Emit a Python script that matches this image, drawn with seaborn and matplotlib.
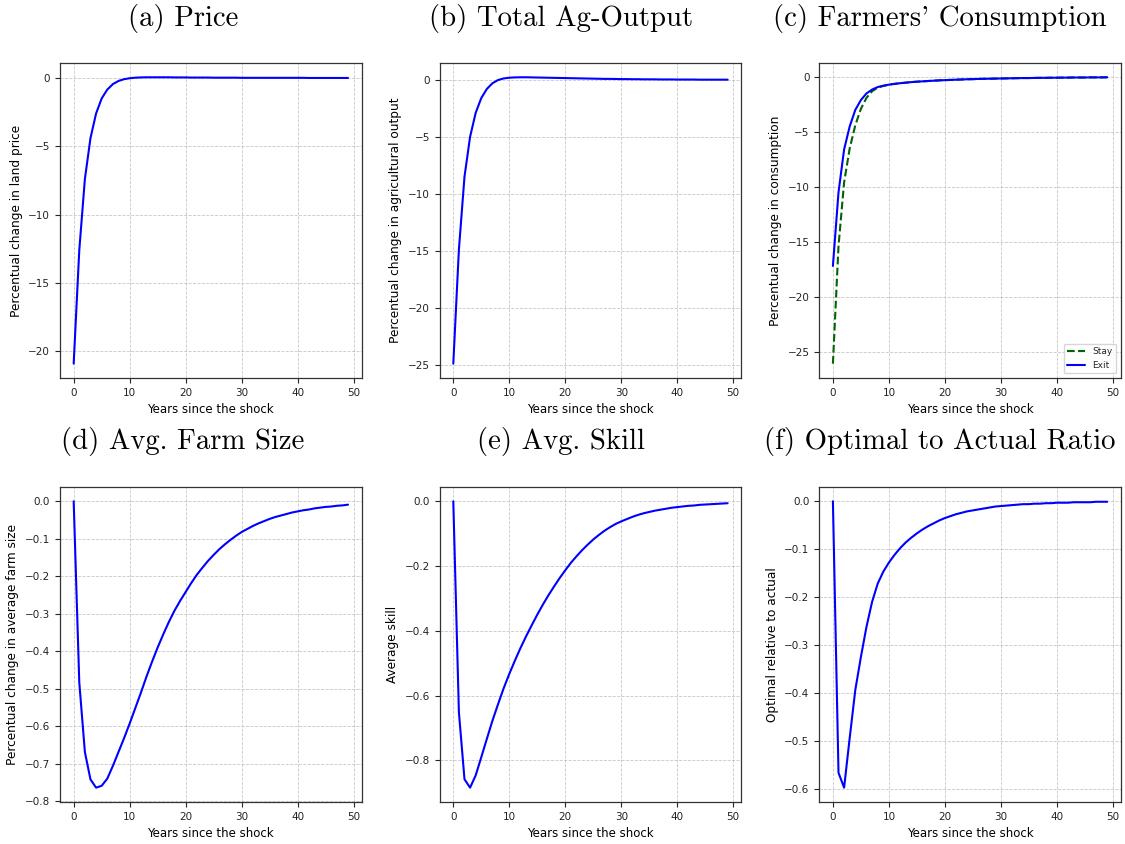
import numpy as np
import pandas as pd
import matplotlib
matplotlib.use("Agg")
import matplotlib.pyplot as plt
import seaborn as sns

years = list(range(50))

price = [-20.9, -12.6, -7.4, -4.4, -2.6, -1.5, -0.85, -0.45, -0.22, -0.09,
         -0.02, 0.02, 0.04, 0.05, 0.05, 0.05, 0.05, 0.05, 0.04, 0.04,
         0.04, 0.03, 0.03, 0.03, 0.03, 0.02, 0.02, 0.02, 0.02, 0.02,
         0.01, 0.01, 0.01, 0.01, 0.01, 0.01, 0.01, 0.01, 0.01, 0.01,
         0.01, 0.01, 0.0, 0.0, 0.0, 0.0, 0.0, 0.0, 0.0, 0.0]

ag_output = [-24.9, -14.9, -8.5, -5.0, -2.9, -1.6, -0.8, -0.3, -0.02, 0.12,
             0.18, 0.21, 0.22, 0.22, 0.21, 0.20, 0.19, 0.18, 0.17, 0.16,
             0.15, 0.14, 0.13, 0.12, 0.11, 0.10, 0.09, 0.08, 0.08, 0.07,
             0.06, 0.06, 0.05, 0.05, 0.04, 0.04, 0.04, 0.03, 0.03, 0.03,
             0.02, 0.02, 0.02, 0.02, 0.01, 0.01, 0.01, 0.01, 0.01, 0.01]

cons_exit = [-17.2, -10.5, -6.6, -4.5, -3.0, -2.1, -1.5, -1.15, -0.92, -0.8,
             -0.7, -0.63, -0.57, -0.52, -0.47, -0.43, -0.40, -0.37, -0.34, -0.31,
             -0.29, -0.27, -0.25, -0.23, -0.21, -0.20, -0.18, -0.17, -0.16, -0.15,
             -0.14, -0.13, -0.12, -0.11, -0.10, -0.10, -0.09, -0.08, -0.08, -0.07,
             -0.07, -0.06, -0.06, -0.05, -0.05, -0.05, -0.04, -0.04, -0.04, -0.03]

cons_stay = [-26.1, -15.4, -9.6, -6.5, -4.4, -2.9, -1.9, -1.3, -0.97, -0.82,
             -0.7, -0.63, -0.57, -0.52, -0.47, -0.43, -0.40, -0.37, -0.34, -0.31,
             -0.29, -0.27, -0.25, -0.23, -0.21, -0.20, -0.18, -0.17, -0.16, -0.15,
             -0.14, -0.13, -0.12, -0.11, -0.10, -0.10, -0.09, -0.08, -0.08, -0.07,
             -0.07, -0.06, -0.06, -0.05, -0.05, -0.05, -0.04, -0.04, -0.04, -0.03]

farm_size = [0.0, -0.483, -0.669, -0.742, -0.764, -0.759, -0.74, -0.706, -0.669, -0.632,
             -0.593, -0.552, -0.511, -0.468, -0.428, -0.39, -0.355, -0.322, -0.292, -0.266,
             -0.242, -0.218, -0.196, -0.177, -0.159, -0.143, -0.128, -0.115, -0.103, -0.092,
             -0.082, -0.074, -0.066, -0.059, -0.053, -0.047, -0.042, -0.038, -0.034, -0.030,
             -0.027, -0.024, -0.022, -0.019, -0.017, -0.015, -0.014, -0.012, -0.011, -0.009]

skill = [0.0, -0.651, -0.858, -0.884, -0.846, -0.79, -0.733, -0.677, -0.626, -0.577,
         -0.533, -0.492, -0.453, -0.417, -0.383, -0.35, -0.319, -0.29, -0.263, -0.237,
         -0.213, -0.19, -0.17, -0.151, -0.134, -0.118, -0.104, -0.091, -0.08, -0.07,
         -0.062, -0.055, -0.048, -0.042, -0.037, -0.033, -0.029, -0.026, -0.023, -0.02,
         -0.018, -0.016, -0.014, -0.013, -0.011, -0.01, -0.009, -0.008, -0.007, -0.006]

ratio = [0.0, -0.567, -0.598, -0.494, -0.394, -0.325, -0.262, -0.21, -0.172, -0.147,
         -0.128, -0.112, -0.098, -0.086, -0.076, -0.067, -0.059, -0.052, -0.046, -0.04,
         -0.035, -0.031, -0.027, -0.024, -0.021, -0.019, -0.017, -0.015, -0.013, -0.011,
         -0.010, -0.009, -0.008, -0.007, -0.006, -0.006, -0.005, -0.005, -0.004, -0.004,
         -0.003, -0.003, -0.003, -0.002, -0.002, -0.002, -0.002, -0.001, -0.001, -0.001]

titles = ["(a) Price", "(b) Total Ag-Output", "(c) Farmers' Consumption",
          "(d) Avg. Farm Size", "(e) Avg. Skill", "(f) Optimal to Actual Ratio"]
ylabels = ["Percentual change in land price", "Percentual change in agricultural output",
           "Percentual change in consumption", "Percentual change in average farm size",
           "Average skill", "Optimal relative to actual"]

sns.set_style("white")
plt.rcParams['font.family'] = ['DejaVu Sans']

fig, axes = plt.subplots(2, 3, figsize=(11.25, 8.44), dpi=100)
plt.subplots_adjust(left=0.0533, right=0.9964, top=0.9254, bottom=0.0498,
                    wspace=0.258, hspace=0.346)
axes = axes.flatten()

# titles sit centred on the whole cell (incl. y label), not on the axes
title_x = [183 / 1125, 561 / 1125, 940 / 1125]
title_y = [1 - 18 / 844, 1 - 441 / 844]

series = [price, ag_output, None, farm_size, skill, ratio]
for i, ax in enumerate(axes):
    if i == 2:
        df = pd.DataFrame({"t": years, "Stay": cons_stay, "Exit": cons_exit})
        sns.lineplot(data=df, x="t", y="Stay", ax=ax, color="darkgreen",
                     linestyle="--", linewidth=1.5, label="Stay")
        sns.lineplot(data=df, x="t", y="Exit", ax=ax, color="blue",
                     linewidth=1.5, label="Exit")
        ax.legend(loc="lower right", fontsize=6.5)
    else:
        df = pd.DataFrame({"t": years, "v": series[i]})
        sns.lineplot(data=df, x="t", y="v", ax=ax, color="blue", linewidth=1.5)
    fig.text(title_x[i % 3], title_y[i // 3], titles[i], family=["cmr10", "DejaVu Serif"],
             fontsize=20.7, ha="center", va="center", color="black")
    ax.set_xlabel("Years since the shock", fontsize=8.5, color="black")
    ax.set_ylabel(ylabels[i], fontsize=8.7, color="black")
    ax.set_xticks([0, 10, 20, 30, 40, 50])
    ax.tick_params(labelsize=7.5, length=3.5, width=0.8, left=True, bottom=True,
                   labelcolor="#222222")
    ax.grid(True, linestyle="--", linewidth=0.6, color="#b0b0b0", alpha=0.7)
    for s in ax.spines.values():
        s.set_color("#333333")
        s.set_linewidth(0.9)

fig.savefig("out.png", dpi=100)
